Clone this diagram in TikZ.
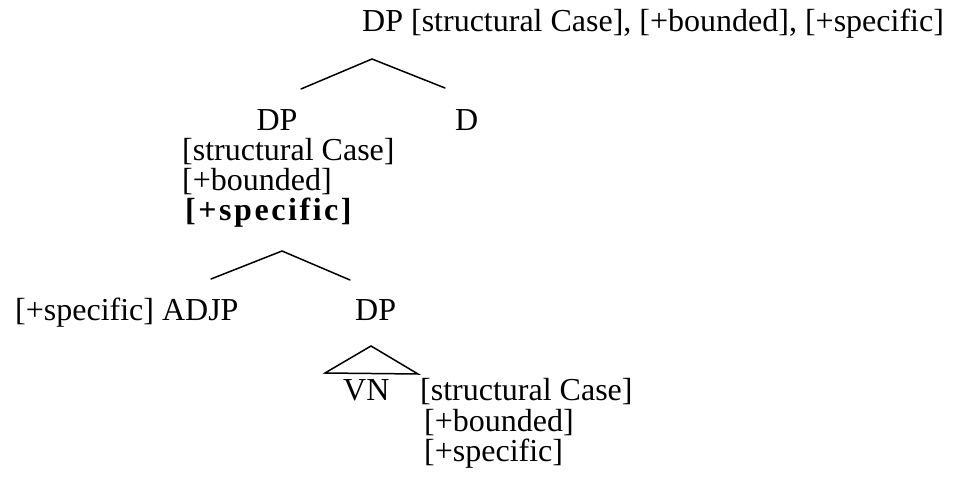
\documentclass[tikz,border=0pt]{standalone}
\usepackage{fontspec}
\setmainfont{Liberation Serif}
\newfontfamily\spacedbold[LetterSpace=8]{Liberation Serif}
\begin{document}
\begin{tikzpicture}[x=1pt,y=-1pt,
  lbl/.style={anchor=base west,inner sep=0pt,font=\fontsize{32}{30}\selectfont},
  branch/.style={line width=1.5pt,line cap=round,line join=miter}]
\useasboundingbox (0,0) rectangle (958,489);

% root
\node[lbl] (root) at (362,32) {DP [structural Case], [+bounded], [+specific]};

% first branching
\node[lbl,anchor=base] (dpA) at (277,131) {DP};
\node[lbl] (dA) at (455,131) {D};
\node[lbl] (dpAcase) at (182,161) {[structural Case]};
\node[lbl] (dpAbound) at (182,191) {[+bounded]};
\node[lbl] (dpAspec) at (185,221) {\spacedbold\bfseries [+specific]};

\coordinate (apexA) at (372,59);
\coordinate (footAl) at (301,89);
\coordinate (footAr) at (445,88);
\draw[branch] (footAl) -- (apexA) -- (footAr);

% second branching
\node[lbl] (adjp) at (15,320) {[+specific] ADJP};
\node[lbl] (dpB) at (355,320) {DP};

\coordinate (apexB) at (282,251);
\coordinate (footBl) at (211,279);
\coordinate (footBr) at (350,280);
\draw[branch] (footBl) -- (apexB) -- (footBr);

% triangle over VN
\coordinate (apexC) at (371,346);
\coordinate (footCl) at (325,373);
\coordinate (footCr) at (418,374);
\draw[branch] (apexC) -- (footCl) -- (footCr) -- cycle;

\node[lbl] (vn) at (343,400) {VN};
\node[lbl] (vncase) at (420,400) {[structural Case]};
\node[lbl] (vnbound) at (424,431) {[+bounded]};
\node[lbl] (vnspec) at (424,461) {[+specific]};
\end{tikzpicture}
\end{document}
